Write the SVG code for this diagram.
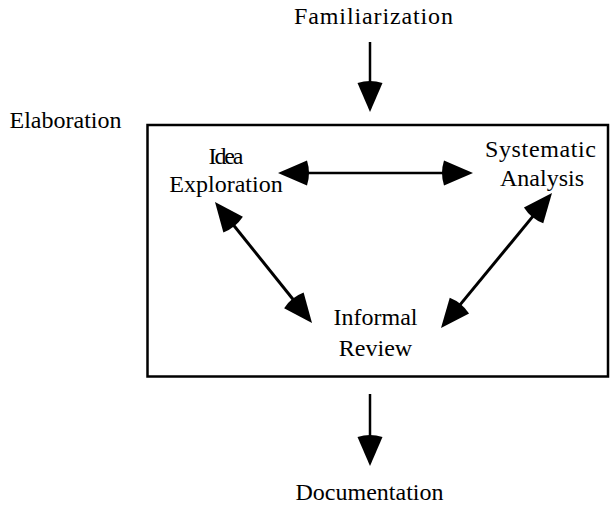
<svg xmlns="http://www.w3.org/2000/svg" width="610" height="506" viewBox="0 0 610 506">
<style>
text{font-family:"Liberation Serif","Times New Roman",serif;font-size:24px;fill:#000;text-anchor:middle}
.ln{stroke:#000;stroke-width:2.5;fill:none}
.dg{stroke-width:3}
.box{stroke:#000;stroke-width:2.5;fill:none}
</style>
<defs>
<path id="head" d="M0,0 L-29,-12.5 Q-33,0 -29,12.5 Z" fill="#000"/>
</defs>
<rect width="610" height="506" fill="#fff"/>
<g id="familiarization"><text x="373.5" y="24" textLength="159">Familiarization</text></g>
<g id="elaboration"><text x="65.5" y="128">Elaboration</text><rect class="box" x="147.5" y="125" width="460.5" height="251.5"/></g>
<g id="idea-exploration"><text x="226" y="164" textLength="35">Idea</text><text x="226" y="192">Exploration</text></g>
<g id="systematic-analysis"><text x="540.5" y="157" textLength="111">Systematic</text><text x="542" y="186">Analysis</text></g>
<g id="informal-review"><text x="375.5" y="325">Informal</text><text x="375.5" y="356">Review</text></g>
<g id="documentation"><text x="369.5" y="500">Documentation</text></g>
<g id="connectors">
<line class="ln" x1="370" y1="42" x2="370" y2="95"/>
<use href="#head" transform="translate(370,112) rotate(90)"/>
<line class="ln" x1="370" y1="394" x2="370" y2="450"/>
<use href="#head" transform="translate(370,466) rotate(90)"/>
<line class="ln" x1="295" y1="173" x2="456" y2="173"/>
<use href="#head" transform="translate(278,173) rotate(180)"/>
<use href="#head" transform="translate(473,173)"/>
<line class="ln dg" x1="224.4" y1="213.7" x2="302.6" y2="311.3"/>
<use href="#head" transform="translate(215,202) rotate(231.3)"/>
<use href="#head" transform="translate(312,323) rotate(51.3)"/>
<line class="ln dg" x1="542.5" y1="204.6" x2="450.5" y2="316.4"/>
<use href="#head" transform="translate(552,193) rotate(-50.6)"/>
<use href="#head" transform="translate(441,328) rotate(129.4)"/>
</g>
</svg>
